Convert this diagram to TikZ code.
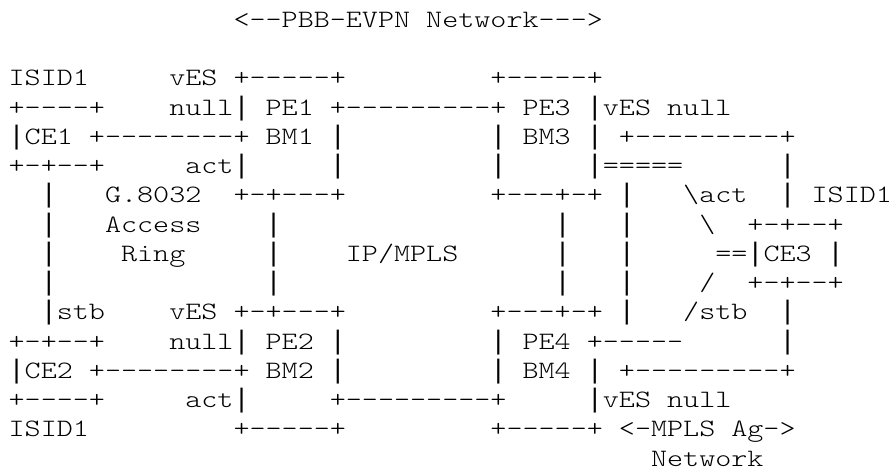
\documentclass[tikz,border=0pt]{standalone}
\usepackage{fontspec}
\setmonofont{lmmonolt10-regular.otf}[FakeStretch=1.2236]
\newfontfamily\barfont{Liberation Mono}
\tikzset{asc/.style={anchor=base west,inner sep=0pt,outer sep=0pt,text=black,font=\ttfamily\fontsize{25pt}{30pt}\selectfont}}
% vertical bar character, taken from a font whose bar spans the full line
\newcommand\vb{{\barfont\fontsize{26.77pt}{30pt}\selectfont|}}
% #1 = text line, #2 = column, #3 = characters
\newcommand\asctok[3]{\node[asc] (t#1-#2) at ({8.67+16.06*#2},{442.5-29.25*#1}) {#3};}
\begin{document}
\begin{tikzpicture}[x=1pt,y=1pt]
\fill[white] (0,0) rectangle (891,470);
\useasboundingbox (0,0) rectangle (891,470);
% line 0
\asctok{0}{14}{<--PBB-EVPN}
\asctok{0}{26}{Network--->}
% line 2
\asctok{2}{0}{ISID1}
\asctok{2}{10}{vES}
\asctok{2}{14}{+-----+}
\asctok{2}{30}{+-----+}
% line 3
\asctok{3}{0}{+----+}
\asctok{3}{10}{null\vb}
\asctok{3}{16}{PE1}
\asctok{3}{20}{+---------+}
\asctok{3}{32}{PE3}
\asctok{3}{36}{\vb vES}
\asctok{3}{41}{null}
% line 4
\asctok{4}{0}{\vb CE1}
\asctok{4}{5}{+--------+}
\asctok{4}{16}{BM1}
\asctok{4}{20}{\vb}
\asctok{4}{30}{\vb}
\asctok{4}{32}{BM3}
\asctok{4}{36}{\vb}
\asctok{4}{38}{+---------+}
% line 5
\asctok{5}{0}{+-+--+}
\asctok{5}{11}{act\vb}
\asctok{5}{20}{\vb}
\asctok{5}{30}{\vb}
\asctok{5}{36}{\vb=====}
\asctok{5}{48}{\vb}
% line 6
\asctok{6}{2}{\vb}
\asctok{6}{6}{G.8032}
\asctok{6}{14}{+-+---+}
\asctok{6}{30}{+---+-+}
\asctok{6}{38}{\vb}
\asctok{6}{42}{\textbackslash act}
\asctok{6}{48}{\vb}
\asctok{6}{50}{ISID1}
% line 7
\asctok{7}{2}{\vb}
\asctok{7}{6}{Access}
\asctok{7}{16}{\vb}
\asctok{7}{34}{\vb}
\asctok{7}{38}{\vb}
\asctok{7}{43}{\textbackslash}
\asctok{7}{46}{+-+--+}
% line 8
\asctok{8}{2}{\vb}
\asctok{8}{7}{Ring}
\asctok{8}{16}{\vb}
\asctok{8}{21}{IP/MPLS}
\asctok{8}{34}{\vb}
\asctok{8}{38}{\vb}
\asctok{8}{44}{==\vb CE3}
\asctok{8}{51}{\vb}
% line 9
\asctok{9}{2}{\vb}
\asctok{9}{16}{\vb}
\asctok{9}{34}{\vb}
\asctok{9}{38}{\vb}
\asctok{9}{43}{/}
\asctok{9}{46}{+-+--+}
% line 10
\asctok{10}{2}{\vb stb}
\asctok{10}{10}{vES}
\asctok{10}{14}{+-+---+}
\asctok{10}{30}{+---+-+}
\asctok{10}{38}{\vb}
\asctok{10}{42}{/stb}
\asctok{10}{48}{\vb}
% line 11
\asctok{11}{0}{+-+--+}
\asctok{11}{10}{null\vb}
\asctok{11}{16}{PE2}
\asctok{11}{20}{\vb}
\asctok{11}{30}{\vb}
\asctok{11}{32}{PE4}
\asctok{11}{36}{+-----}
\asctok{11}{48}{\vb}
% line 12
\asctok{12}{0}{\vb CE2}
\asctok{12}{5}{+--------+}
\asctok{12}{16}{BM2}
\asctok{12}{20}{\vb}
\asctok{12}{30}{\vb}
\asctok{12}{32}{BM4}
\asctok{12}{36}{\vb}
\asctok{12}{38}{+---------+}
% line 13
\asctok{13}{0}{+----+}
\asctok{13}{11}{act\vb}
\asctok{13}{20}{+---------+}
\asctok{13}{36}{\vb vES}
\asctok{13}{41}{null}
% line 14
\asctok{14}{0}{ISID1}
\asctok{14}{14}{+-----+}
\asctok{14}{30}{+-----+}
\asctok{14}{38}{<-MPLS}
\asctok{14}{45}{Ag->}
% line 15
\asctok{15}{40}{Network}
\end{tikzpicture}
\end{document}
